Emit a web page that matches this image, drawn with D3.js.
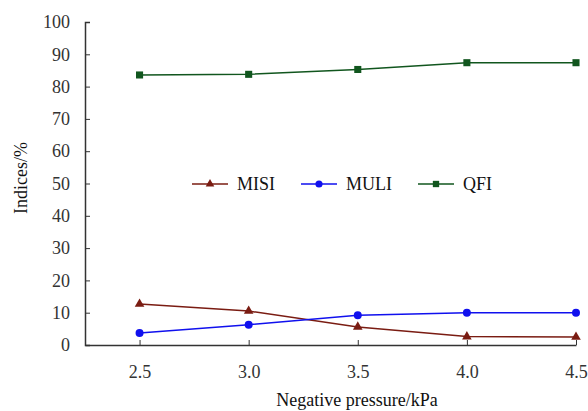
<!DOCTYPE html>
<html>
<head>
<meta charset="utf-8">
<script src="https://cdn.jsdelivr.net/npm/d3@7"></script>
<style>
  body { margin: 0; background: #fff; }
  svg { display: block; font-family: "Liberation Serif", "DejaVu Serif", serif; }
  svg text { font-family: "Liberation Serif", "DejaVu Serif", serif; }
</style>
</head>
<body>
<div id="chart"></div>
<script>
const pressure = [2.5, 3.0, 3.5, 4.0, 4.5];
const misi = [12.7, 10.5, 5.6, 2.6, 2.5];
const muli = [3.7, 6.3, 9.2, 10.0, 10.0];
const qfi = [83.6, 83.8, 85.3, 87.4, 87.4];
const yTicks = [0, 10, 20, 30, 40, 50, 60, 70, 80, 90, 100];

(function () {
    const [width, height] = [588, 411];
    const [left, right, top, bottom] = [85, 12, 22, 66];

    const svg = d3.select('#chart')
                  .append('svg')
                  .attr('width', width)
                  .attr('height', height);

    const x = d3.scaleLinear().domain([2.25, 4.5]).range([left, width - right]);
    const y = d3.scaleLinear().domain([0, 100]).range([height - bottom, top]);

    const axisColour = '#333';

    // y axis, ticks point inward
    const yAxis = svg.append('g')
       .attr('transform', `translate(${left},0)`)
       .call(d3.axisRight(y).tickValues(yTicks).tickSize(5).tickFormat(d3.format('d')));
    yAxis.attr('font-family', null).attr('font-size', null);
    yAxis.select('.domain').attr('stroke', axisColour).attr('stroke-width', 1.5);
    yAxis.selectAll('.tick line').attr('stroke', axisColour);
    yAxis.selectAll('text')
         .attr('x', -15)
         .attr('text-anchor', 'end')
         .style('font-size', '18px')
         .attr('fill', '#333');

    // x axis, ticks point inward
    const xAxis = svg.append('g')
       .attr('transform', `translate(0,${height - bottom})`)
       .call(d3.axisTop(x).tickValues(pressure).tickSize(5).tickSizeOuter(0).tickFormat(d3.format('.1f')));
    xAxis.attr('font-family', null).attr('font-size', null);
    xAxis.select('.domain').attr('stroke', axisColour).attr('stroke-width', 1.5);
    xAxis.selectAll('.tick line').attr('stroke', axisColour);
    xAxis.selectAll('text')
         .attr('y', 27)
         .attr('dy', '0.35em')
         .style('font-size', '18px')
         .attr('fill', '#333');

    svg.append('text')
       .attr('x', 357)
       .attr('y', 406)
       .attr('text-anchor', 'middle')
       .style('font-size', '18px')
       .attr('fill', '#111')
       .text('Negative pressure/kPa');

    svg.append('text')
       .attr('transform', 'translate(27,178) rotate(-90)')
       .attr('text-anchor', 'middle')
       .style('font-size', '18px')
       .attr('fill', '#111')
       .text('Indices/%');

    const series = [
        { name: 'MISI', values: misi, colour: '#7a1c12', marker: d3.symbolTriangle, size: 40 },
        { name: 'MULI', values: muli, colour: '#1010ee', marker: d3.symbolCircle, size: 50 },
        { name: 'QFI', values: qfi, colour: '#11561e', marker: d3.symbolSquare, size: 50 },
    ];

    const line = d3.line()
                   .x((d, i) => x(pressure[i]))
                   .y(d => y(d));

    for (let s of series) {
        svg.append('path')
           .datum(s.values)
           .attr('d', line)
           .attr('fill', 'none')
           .attr('stroke', s.colour)
           .attr('stroke-width', 1.5);

        svg.selectAll(null)
           .data(s.values)
           .enter()
           .append('path')
           .attr('transform', (d, i) => `translate(${x(pressure[i])},${y(d)})`)
           .attr('d', d3.symbol().type(s.marker).size(s.size))
           .attr('fill', s.colour);
    }

    // legend
    const legendX = [192, 301, 418];
    const legend = svg.selectAll('.legend')
                      .data(series)
                      .enter()
                      .append('g')
                      .attr('transform', (d, i) => `translate(${legendX[i]},184)`);
    legend.append('line')
          .attr('x1', 0).attr('x2', 36)
          .attr('stroke', d => d.colour)
          .attr('stroke-width', 1.5);
    legend.append('path')
          .attr('transform', 'translate(18,0)')
          .attr('d', d => d3.symbol().type(d.marker).size(d.size * 0.8)())
          .attr('fill', d => d.colour);
    legend.append('text')
          .attr('x', 45)
          .attr('dy', '0.35em')
          .style('font-size', '18px')
          .attr('fill', '#111')
          .text(d => d.name);
})();
</script>
</body>
</html>
